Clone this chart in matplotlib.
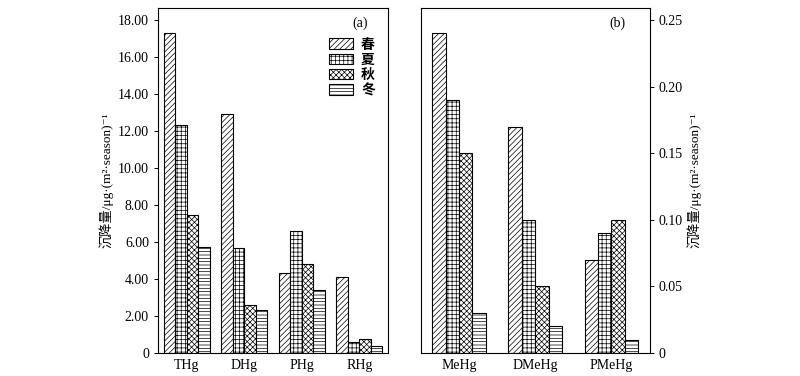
import numpy as np
import matplotlib
matplotlib.use('Agg')
import matplotlib.pyplot as plt
from matplotlib.ticker import FuncFormatter

plt.rcParams['font.family'] = ['Liberation Serif', 'Noto Sans CJK SC', 'DejaVu Sans']
plt.rcParams['hatch.linewidth'] = 0.5
plt.rcParams['axes.linewidth'] = 0.8

# data
seasons = ['春', '夏', '秋', '冬']
hatches = ['//////', '++++', 'xxxxxx', '-----']

groups_a = ['THg', 'DHg', 'PHg', 'RHg']
spring_a = [17.3, 12.9, 4.35, 4.1]
summer_a = [12.3, 5.65, 6.6, 0.6]
autumn_a = [7.45, 2.6, 4.8, 0.75]
winter_a = [5.75, 2.35, 3.4, 0.4]

groups_b = ['MeHg', 'DMeHg', 'PMeHg']
spring_b = [0.24, 0.17, 0.07]
summer_b = [0.19, 0.10, 0.09]
autumn_b = [0.15, 0.05, 0.10]
winter_b = [0.03, 0.02, 0.01]

ylabel = '沉降量/μg·(m²·season)⁻¹'

fig = plt.figure(figsize=(8, 3.76), dpi=100)
ax1 = fig.add_axes([0.1975, 0.0612, 0.2875, 0.9176])
ax2 = fig.add_axes([0.526, 0.0612, 0.286, 0.9176])


def draw(ax, groups, series, width):
    x = np.arange(len(groups))
    n = len(series)
    for i, vals in enumerate(series):
        off = (i - (n - 1) / 2) * width
        ax.bar(x + off, vals, width, facecolor='white', edgecolor='black',
               linewidth=0.8, hatch=hatches[i], label=seasons[i])
    ax.set_xticks(x)
    ax.set_xticklabels(groups, fontsize=10)
    ax.tick_params(axis='x', length=0, pad=4)
    ax.set_xlim(-0.5, len(groups) - 0.5)


draw(ax1, groups_a, [spring_a, summer_a, autumn_a, winter_a], 0.2)
ax1.set_ylim(0, 18.65)
ax1.set_yticks(np.arange(0, 19, 2))
ax1.yaxis.set_major_formatter(FuncFormatter(lambda v, p: '0' if v == 0 else '%.2f' % v))
ax1.tick_params(axis='y', labelsize=10, length=3, width=0.7)
ax1.set_ylabel(ylabel, fontsize=9.5, labelpad=3)
ax1.text(0.88, 0.955, '(a)', transform=ax1.transAxes, ha='center', va='center', fontsize=10)
ax1.legend(loc='upper right', bbox_to_anchor=(0.985, 0.94), frameon=False,
           prop={'size': 10, 'weight': 'bold'},
           handlelength=1.7, handleheight=0.8, labelspacing=0.15, handletextpad=0.6,
           borderaxespad=0.3)

draw(ax2, groups_b, [spring_b, summer_b, autumn_b, winter_b], 0.176)
ax2.set_ylim(0, 0.259)
ax2.set_yticks(np.arange(0, 0.26, 0.05))
ax2.yaxis.set_major_formatter(FuncFormatter(lambda v, p: '0' if abs(v) < 1e-9 else '%.2f' % v))
ax2.yaxis.tick_right()
ax2.yaxis.set_label_position('right')
ax2.tick_params(axis='y', labelsize=10, length=3, width=0.7)
ax2.set_ylabel(ylabel, fontsize=9.5, labelpad=3)
ax2.text(0.86, 0.955, '(b)', transform=ax2.transAxes, ha='center', va='center', fontsize=10)

fig.savefig('out.png', dpi=100)
